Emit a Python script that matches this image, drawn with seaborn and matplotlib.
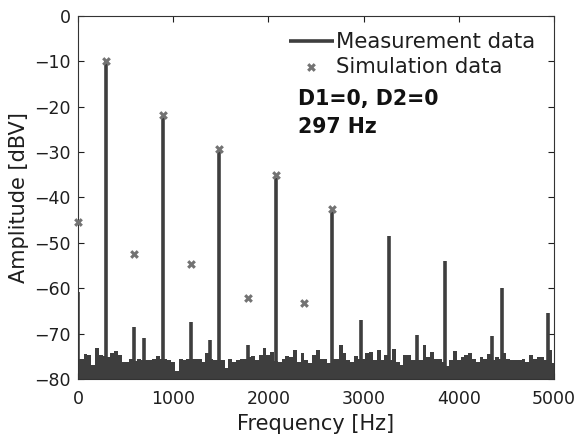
import numpy as np
import matplotlib
matplotlib.use("Agg")
import matplotlib.pyplot as plt
import seaborn as sns

# noise floor of the measured spectrum, one value every 40 Hz from 0 to 5000 Hz [dBV]
noise_step = 40
noise_db = [
    -75.5, -75.5, -74.6, -74.7, -76.9, -73.1, -74.7, -74.9, -75.1, -74.3,
    -73.8, -74.7, -76.2, -76.2, -75.5, -76.0, -75.5, -75.8, -75.8, -75.8,
    -75.5, -74.9, -75.5, -75.5, -75.8, -76.3, -78.2, -75.5, -75.8, -75.5,
    -75.5, -75.5, -75.5, -76.2, -74.3, -75.5, -75.8, -75.8, -75.8, -77.6,
    -75.5, -76.2, -75.8, -75.7, -75.5, -75.1, -74.9, -75.8, -74.7, -73.2,
    -74.7, -74.0, -76.0, -76.2, -75.5, -74.9, -75.1, -73.6, -76.2, -74.2,
    -75.8, -76.5, -74.7, -73.6, -75.7, -75.7, -76.5, -75.5, -75.7, -72.5,
    -74.3, -75.8, -76.2, -74.9, -75.5, -75.5, -74.3, -74.0, -75.8, -73.6,
    -75.8, -74.7, -75.8, -73.5, -76.2, -76.9, -74.7, -74.7, -75.8, -75.8,
    -75.8, -72.5, -75.1, -74.0, -75.5, -75.5, -76.2, -77.2, -75.8, -73.8,
    -75.8, -75.1, -74.7, -74.3, -75.5, -76.2, -75.2, -75.7, -74.5, -75.8,
    -75.1, -75.5, -74.3, -75.7, -75.8, -75.8, -75.8, -75.5, -76.2, -74.7,
    -75.7, -75.1, -75.2, -75.8, -73.6, -76.4,
]

# spectral lines of the measurement
peak_hz = [0, 297, 594, 693, 891, 1188, 1383, 1485, 1782, 2079,
           2673, 2970, 3267, 3564, 3861, 4345, 4455, 4940]
peak_db = [-60.8, -10.0, -68.5, -71.0, -22.3, -67.5, -71.3, -29.8, -72.5, -35.8,
           -42.8, -67.0, -48.4, -70.3, -54.0, -70.5, -60.0, -65.4]

# simulation at the harmonics of 297 Hz
sim_hz = [0, 297, 594, 891, 1188, 1485, 1782, 2079, 2376, 2673]
sim_db = [-45.4, -10.0, -52.5, -21.8, -54.7, -29.3, -62.1, -35.0, -63.3, -42.5]

floor = -80
line_col = "#3e3e3e"
mark_col = "#737373"
txt_col = "#1e1e1e"

sns.set_style("ticks")
plt.rcParams['font.family'] = ['DejaVu Sans']

fig = plt.figure(figsize=(5.77, 4.41), dpi=100)
ax = fig.add_axes([0.135, 0.1406, 0.825, 0.8232])

noise_hz = np.arange(len(noise_db)) * noise_step
ax.bar(noise_hz, np.array(noise_db) - floor, bottom=floor, width=noise_step,
       color=line_col, linewidth=0)
ax.vlines(peak_hz, floor, peak_db, color=line_col, linewidth=2.6,
          label="Measurement data")

sns.scatterplot(x=sim_hz, y=sim_db, ax=ax, marker="X", s=40, color=mark_col,
                linewidth=0, label="Simulation data", clip_on=False, zorder=5)

ax.set_xlim(0, 5000)
ax.set_ylim(-80, 0)
ax.set_xticks(range(0, 5001, 1000))
ax.set_yticks(range(-80, 1, 10))
ax.set_yticklabels([str(v).replace("-", "\u2212") for v in range(-80, 1, 10)])
ax.tick_params(direction="in", length=4, labelsize=12.5, top=True, right=True,
               colors=txt_col, pad=5)
ax.tick_params(axis="x", pad=8)
for s in ax.spines.values():
    s.set_color("#333333")
    s.set_linewidth(0.8)

ax.set_xlabel("Frequency [Hz]", fontsize=15, color=txt_col, labelpad=4)
ax.set_ylabel("Amplitude [dBV]", fontsize=15, color=txt_col, labelpad=4)

leg = ax.legend(loc="upper right", frameon=False, fontsize=15.2,
                handlelength=2.1, handletextpad=0.1, borderpad=0,
                borderaxespad=0, labelspacing=0.2,
                bbox_to_anchor=(0.96, 0.955))
for t in leg.get_texts():
    t.set_color(txt_col)

ax.text(0.462, 0.755, "D1=0, D2=0", transform=ax.transAxes, fontsize=14.8,
        fontweight="bold", color="#111111", va="baseline", ha="left")
ax.text(0.462, 0.678, "297 Hz", transform=ax.transAxes, fontsize=14.8,
        fontweight="bold", color="#111111", va="baseline", ha="left")

fig.savefig("out.png", dpi=100)
